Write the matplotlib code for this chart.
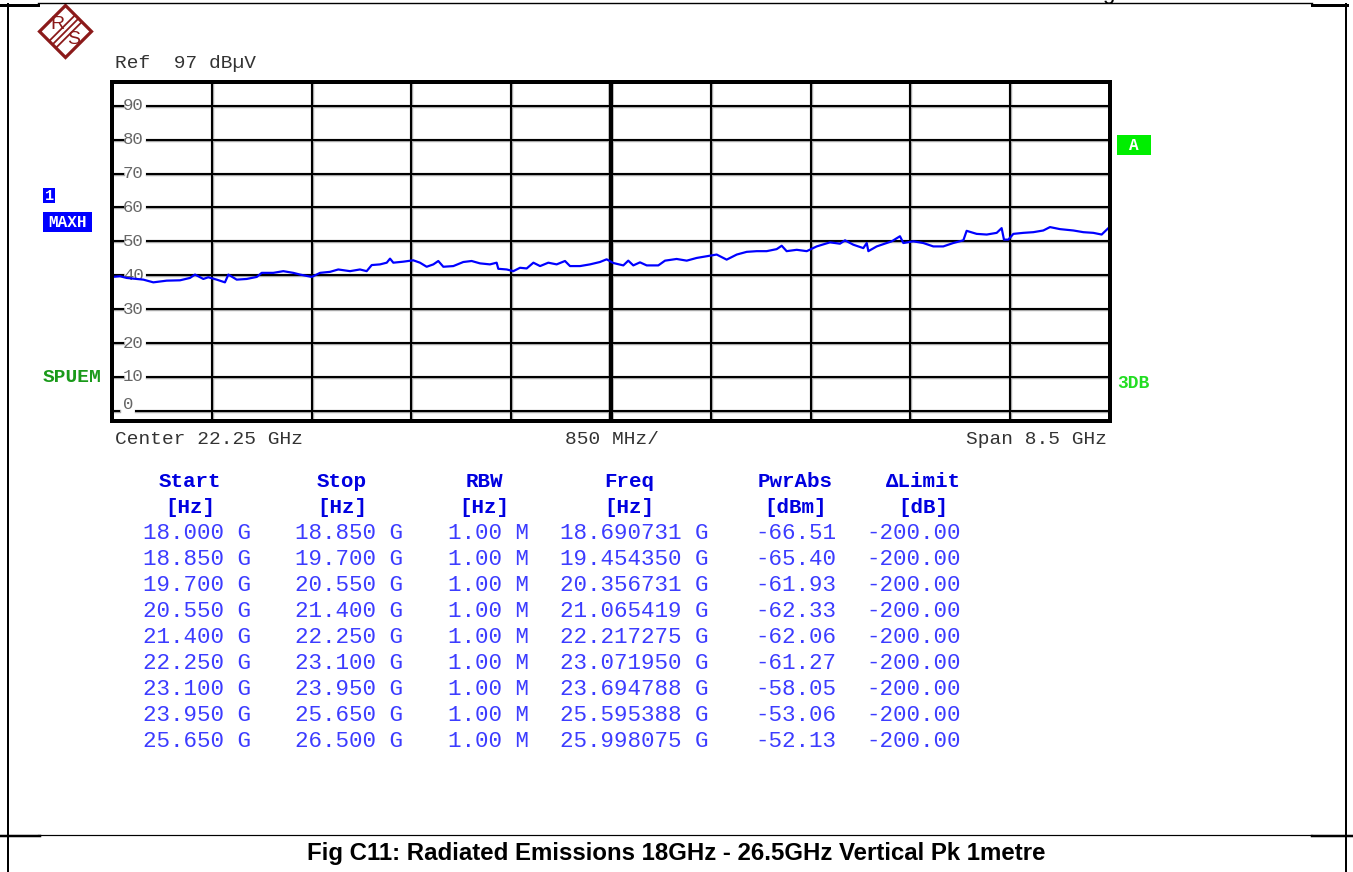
import matplotlib
matplotlib.use("Agg")
import matplotlib.pyplot as plt
from matplotlib.patches import Polygon, Rectangle

# ---- spectrum trace (MAXH), frequency in GHz, level in dBuV ----
trace_freq = [18.000, 18.068, 18.125, 18.182, 18.267, 18.352, 18.466, 18.579, 18.664, 18.707,
              18.778, 18.820, 18.892, 18.962, 18.991, 19.062, 19.147, 19.233, 19.275, 19.374,
              19.459, 19.544, 19.601, 19.701, 19.772, 19.857, 19.927, 20.027, 20.112, 20.169,
              20.212, 20.283, 20.340, 20.368, 20.396, 20.481, 20.566, 20.623, 20.680, 20.737,
              20.779, 20.822, 20.907, 20.992, 21.063, 21.134, 21.219, 21.276, 21.290, 21.362,
              21.418, 21.475, 21.532, 21.589, 21.646, 21.716, 21.787, 21.858, 21.901, 21.986,
              22.071, 22.156, 22.213, 22.270, 22.355, 22.397, 22.440, 22.497, 22.554, 22.653,
              22.710, 22.809, 22.895, 22.980, 23.065, 23.150, 23.235, 23.321, 23.406, 23.491,
              23.576, 23.661, 23.704, 23.746, 23.832, 23.917, 24.002, 24.115, 24.200, 24.243,
              24.314, 24.399, 24.428, 24.442, 24.513, 24.598, 24.641, 24.711, 24.740, 24.825,
              24.910, 24.995, 25.080, 25.165, 25.251, 25.279, 25.364, 25.450, 25.535, 25.577,
              25.597, 25.634, 25.677, 25.762, 25.847, 25.932, 25.989, 26.074, 26.188, 26.273,
              26.358, 26.429, 26.486, 26.500]
trace_level = [39.5, 39.7, 39.2, 39.0, 38.7, 37.9, 38.4, 38.5, 39.2, 40.2,
               38.9, 39.4, 38.7, 37.9, 40.2, 38.7, 38.9, 39.5, 40.7, 40.7,
               41.2, 40.7, 40.2, 39.5, 40.7, 41.0, 41.7, 41.2, 41.7, 41.2,
               43.0, 43.2, 43.7, 44.9, 43.7, 44.0, 44.4, 43.7, 42.5, 43.2,
               44.2, 42.5, 42.7, 43.9, 44.2, 43.5, 43.2, 43.7, 41.9, 41.7,
               41.2, 42.2, 42.0, 43.7, 42.7, 43.7, 43.2, 44.2, 42.7, 42.7,
               43.2, 43.9, 44.7, 43.6, 42.9, 44.3, 42.9, 43.8, 42.9, 42.9,
               44.3, 44.8, 44.3, 45.1, 45.6, 46.1, 44.6, 46.1, 46.9, 47.1,
               47.1, 47.7, 48.7, 47.1, 47.5, 47.1, 48.5, 49.7, 49.3, 50.3,
               49.0, 48.0, 49.5, 47.1, 48.5, 49.5, 50.0, 51.5, 49.5, 50.0,
               49.5, 48.5, 48.5, 49.5, 50.3, 53.1, 52.2, 52.0, 52.5, 53.9,
               50.5, 50.5, 52.2, 52.5, 52.7, 53.2, 54.2, 53.6, 53.2, 52.7,
               52.5, 52.0, 53.9, 54.0]

# ---- display settings ----
f_start, f_stop = 18.0, 26.5
ref_level = 97
level_range = 100
y_ticks = [90, 80, 70, 60, 50, 40, 30, 20, 10, 0]
ref_text = "Ref  97 dB\u00b5V"
center_text = "Center 22.25 GHz"
div_text = "850 MHz/"
span_text = "Span 8.5 GHz"

# ---- peak table ----
col_headers = ["Start", "Stop", "RBW", "Freq", "PwrAbs", "\u0394Limit"]
col_units = ["[Hz]", "[Hz]", "[Hz]", "[Hz]", "[dBm]", "[dB]"]
range_start = ["18.000 G", "18.850 G", "19.700 G", "20.550 G", "21.400 G",
               "22.250 G", "23.100 G", "23.950 G", "25.650 G"]
range_stop = ["18.850 G", "19.700 G", "20.550 G", "21.400 G", "22.250 G",
              "23.100 G", "23.950 G", "25.650 G", "26.500 G"]
rbw = ["1.00 M"] * 9
peak_freq = ["18.690731 G", "19.454350 G", "20.356731 G", "21.065419 G", "22.217275 G",
             "23.071950 G", "23.694788 G", "25.595388 G", "25.998075 G"]
pwr_abs = ["-66.51", "-65.40", "-61.93", "-62.33", "-62.06",
           "-61.27", "-58.05", "-53.06", "-52.13"]
delta_limit = ["-200.00"] * 9

caption = "Fig C11: Radiated Emissions 18GHz - 26.5GHz Vertical Pk 1metre"

W, H = 1353, 872
fig = plt.figure(figsize=(W / 100, H / 100), dpi=100)
fig.patch.set_facecolor("white")

# page-level canvas in pixel coordinates
bg = fig.add_axes([0, 0, 1, 1])
bg.set_xlim(0, W)
bg.set_ylim(H, 0)
bg.axis("off")

MONO = "Liberation Mono"
PX = 0.72  # points per pixel at 100 dpi

# frame around the page
bg.plot([7.5, 7.5], [4, H], color="black", lw=2 * PX)
bg.plot([1345.5, 1345.5], [4, H], color="black", lw=2 * PX)
bg.plot([38, 1312], [3.5, 3.5], color="black", lw=1.4 * PX)
bg.plot([0, 38], [5, 5], color="black", lw=3 * PX)
bg.plot([1312, 1347], [5, 5], color="black", lw=3 * PX)
bg.plot([38, 1312], [835, 835], color="black", lw=1.2 * PX)
bg.plot([0, 40], [835.5, 835.5], color="black", lw=2.5 * PX)
bg.plot([1312, W], [835.5, 835.5], color="black", lw=2.5 * PX)
bg.text(1108, -1, "g", family="Liberation Sans", fontsize=16, ha="center",
        va="baseline", color="black", clip_on=False)

# R&S logo
logo_red = "#8b1a1a"
cx, cy, r = 65.5, 31.5, 26
bg.add_patch(Polygon([(cx, cy - r), (cx + r, cy), (cx, cy + r), (cx - r, cy)],
                     closed=True, facecolor="white", edgecolor=logo_red, lw=3.2 * PX,
                     joinstyle="miter"))
for off in (-3.4, 0, 3.4):
    d = 13
    bg.plot([cx - d + off, cx + d + off], [cy + d + off, cy - d + off],
            color=logo_red, lw=1.8 * PX, solid_capstyle="butt")
bg.text(cx - 8, cy - 7, "R", family="Liberation Sans", fontsize=14, color=logo_red,
        ha="center", va="center")
bg.text(cx + 8, cy + 8.5, "S", family="Liberation Sans", fontsize=14, color=logo_red,
        ha="center", va="center")

# annotation text around the graticule
text_gray = "#333333"
bg.text(115, 64, ref_text, family=MONO, fontsize=14, color=text_gray, ha="left", va="center")
bg.text(115, 439, center_text, family=MONO, fontsize=14, color=text_gray, ha="left", va="center")
bg.text(612, 439, div_text, family=MONO, fontsize=14, color=text_gray, ha="center", va="center")
bg.text(1107, 439, span_text, family=MONO, fontsize=14, color=text_gray, ha="right", va="center")

# trace / detector markers
blue = "#0000ff"
bg.add_patch(Rectangle((43, 188), 12, 15, facecolor=blue, edgecolor="none"))
bg.text(49, 195.5, "1", family=MONO, weight="bold", fontsize=11, color="white",
        ha="center", va="center")
bg.add_patch(Rectangle((43, 212), 49, 20, facecolor=blue, edgecolor="none"))
bg.text(67.5, 222, "MAXH", family=MONO, weight="bold", fontsize=11.5, color="white",
        ha="center", va="center")
bg.text(43, 377, "SPUEM", family=MONO, weight="bold", fontsize=14, color="#1a9a1a",
        ha="left", va="center")
bg.add_patch(Rectangle((1117, 135), 34, 20, facecolor="#00ee00", edgecolor="none"))
bg.text(1134, 145, "A", family=MONO, weight="bold", fontsize=11.5, color="white",
        ha="center", va="center")
bg.text(1117, 383, "3DB", family=MONO, weight="bold", fontsize=13, color="#22dd22",
        ha="left", va="center")

# peak table
hdr_blue = "#0000e0"
row_blue = "#3c3cff"
hdr_x = [190, 342, 484, 629, 795, 923]
for x, h, u in zip(hdr_x, col_headers, col_units):
    bg.text(x, 481, h, family=MONO, weight="bold", fontsize=15, color=hdr_blue,
            ha="center", va="center")
    bg.text(x, 507, u, family=MONO, weight="bold", fontsize=15, color=hdr_blue,
            ha="center", va="center")
col_left = [143, 295, 448, 560, 755, 866]
columns = [range_start, range_stop, rbw, peak_freq, pwr_abs, delta_limit]
for i in range(len(range_start)):
    y = 533 + 26 * i
    for x, col in zip(col_left, columns):
        bg.text(x, y, col[i], family=MONO, fontsize=16.2, color=row_blue,
                ha="left", va="center")

bg.text(676, 853, caption, family="Liberation Sans", weight="bold", fontsize=17.3,
        color="black", ha="center", va="center")

# ---- graticule ----
L, T, R, B = 112, 82, 1110, 421
ax = fig.add_axes([L / W, 1 - B / H, (R - L) / W, (B - T) / H])
ax.set_xlim(f_start, f_stop)
ax.set_ylim(ref_level - level_range, ref_level)
ax.set_xticks([])
ax.set_yticks([])
for s in ax.spines.values():
    s.set_linewidth(4 * PX)
    s.set_color("black")
    s.set_zorder(6)

n_div = 10
step = (f_stop - f_start) / n_div
for k in range(1, n_div):
    f = f_start + k * step
    thick = (k == n_div // 2)
    ax.axvline(f, color="#a8a8a8", lw=(5.5 if thick else 3.4) * PX, zorder=1)
    ax.axvline(f, color="black", lw=(4 if thick else 2) * PX, zorder=2)

span_px = R - L
for lv in y_ticks:
    if lv == 0:
        gap0, gap1 = 119, 136
        lx, ly = 128.5, lv + 1.8
    else:
        gap0, gap1 = 122.5, 146.5
        lx, ly = 133.5, lv
    for a, b in (((0, (gap0 - L) / span_px)), ((gap1 - L) / span_px, 1)):
        ax.axhline(lv, xmin=a, xmax=b, color="#a8a8a8", lw=3.4 * PX, zorder=1)
        ax.axhline(lv, xmin=a, xmax=b, color="black", lw=2 * PX, zorder=2)
    ax.text((lx - L) / span_px, ly, str(lv), transform=ax.get_yaxis_transform(),
            family=MONO, fontsize=12.5, color="#666666", ha="center", va="center", zorder=3)

ax.plot(trace_freq, trace_level, color=blue, lw=2.2 * PX, zorder=4)

fig.savefig("out.png", dpi=100, facecolor="white")
